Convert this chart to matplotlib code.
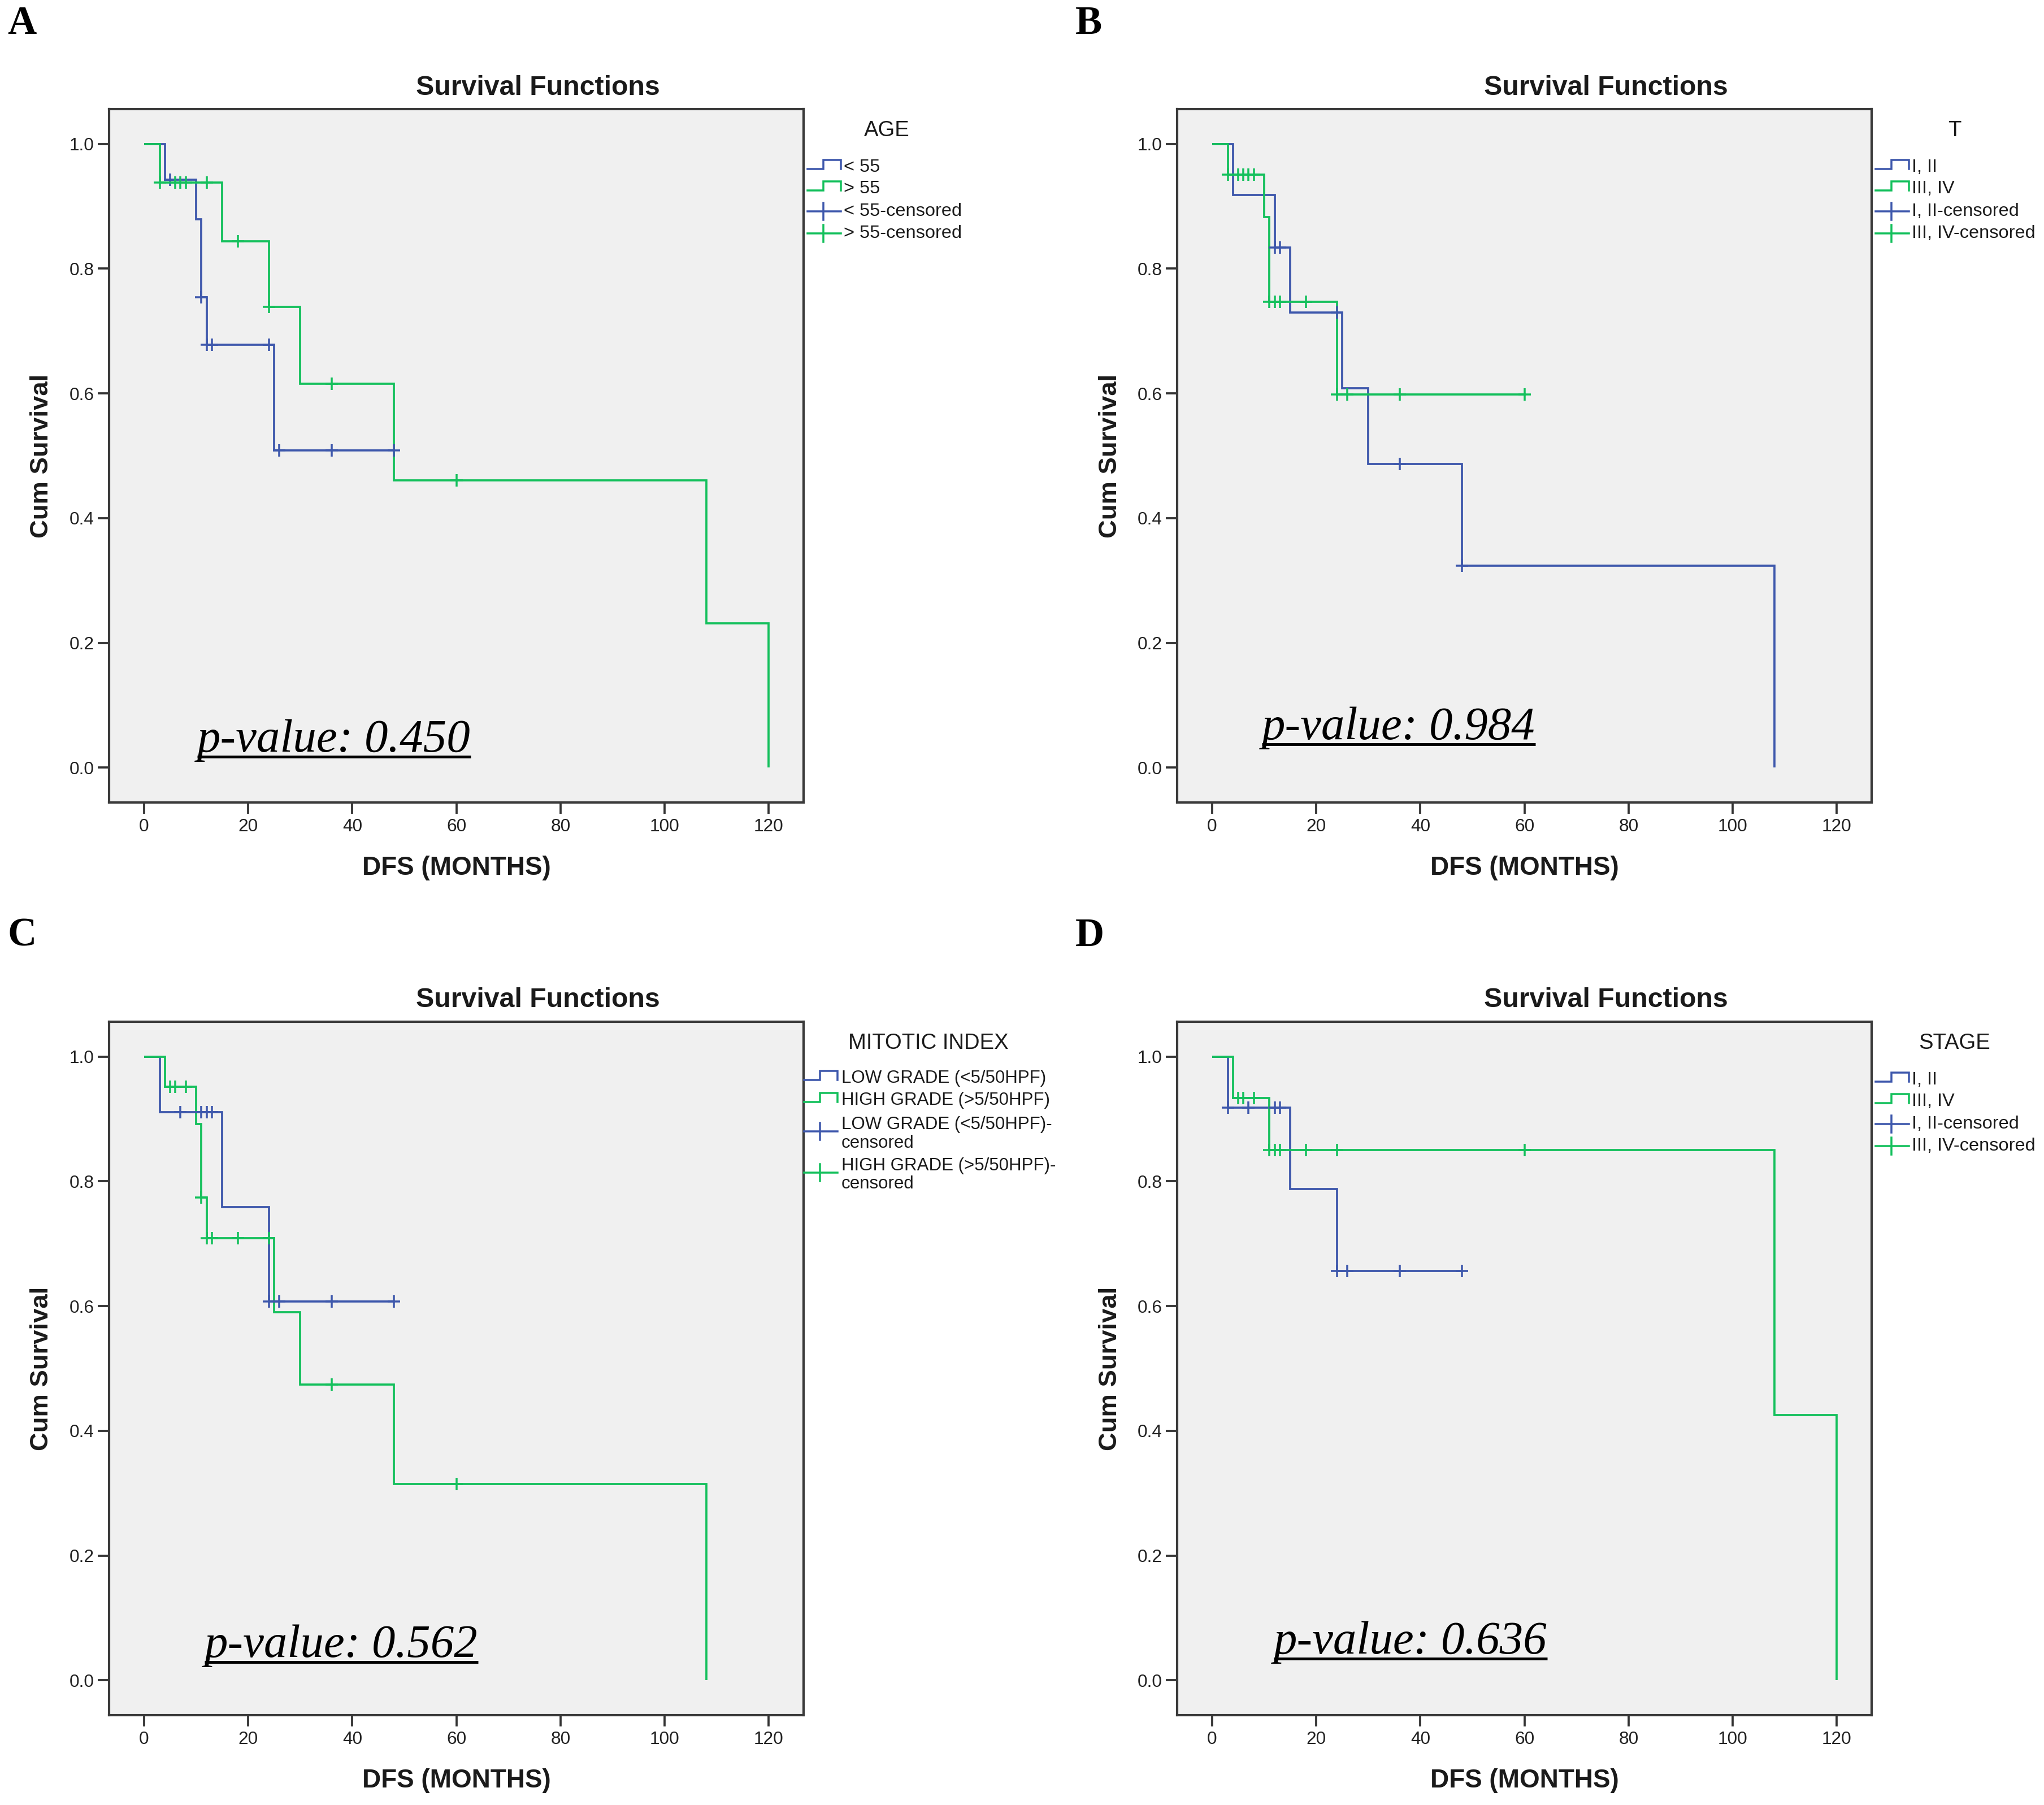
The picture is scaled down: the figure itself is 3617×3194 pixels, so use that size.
import matplotlib
matplotlib.use('Agg')
import matplotlib.pyplot as plt
import numpy as np
from matplotlib.lines import Line2D

# ---------------- data ----------------
panel_letters = ['A', 'B', 'C', 'D']
legend_titles = ['AGE', 'T', 'MITOTIC INDEX', 'STAGE']
group1_labels = ['< 55', 'I, II', 'LOW GRADE (<5/50HPF)', 'I, II']
group2_labels = ['> 55', 'III, IV', 'HIGH GRADE (>5/50HPF)', 'III, IV']
p_values = ['0.450', '0.984', '0.562', '0.636']
x_ticks = [0, 20, 40, 60, 80, 100, 120]
y_ticks = [0.0, 0.2, 0.4, 0.6, 0.8, 1.0]

# Panel A (AGE)
a_blue_event_t = [4, 10, 11, 12, 25]
a_blue_surv = [0.943, 0.879, 0.754, 0.678, 0.509]
a_blue_cens = [5, 11, 12, 13, 24, 26, 36, 48]
a_green_event_t = [3, 15, 24, 30, 48, 108, 120]
a_green_surv = [0.938, 0.844, 0.739, 0.616, 0.461, 0.231, 0.0]
a_green_cens = [3, 6, 7, 8, 12, 18, 24, 36, 60]

# Panel B (T)
b_blue_event_t = [4, 12, 15, 25, 30, 48, 108]
b_blue_surv = [0.918, 0.834, 0.730, 0.608, 0.487, 0.324, 0.0]
b_blue_cens = [12, 13, 24, 36, 48]
b_green_event_t = [3, 10, 11, 24]
b_green_surv = [0.951, 0.883, 0.747, 0.598]
b_green_cens = [3, 5, 6, 7, 8, 11, 12, 13, 18, 24, 26, 36, 60]

# Panel C (MITOTIC INDEX)
c_blue_event_t = [3, 15, 24]
c_blue_surv = [0.911, 0.759, 0.607]
c_blue_cens = [7, 11, 12, 13, 24, 26, 36, 48]
c_green_event_t = [4, 10, 11, 12, 25, 30, 48, 108]
c_green_surv = [0.952, 0.892, 0.774, 0.709, 0.590, 0.474, 0.315, 0.0]
c_green_cens = [5, 6, 8, 11, 12, 13, 18, 24, 36, 60]

# Panel D (STAGE)
d_blue_event_t = [3, 15, 24]
d_blue_surv = [0.918, 0.788, 0.656]
d_blue_cens = [3, 7, 12, 13, 24, 26, 36, 48]
d_green_event_t = [4, 11, 108, 120]
d_green_surv = [0.934, 0.850, 0.425, 0.0]
d_green_cens = [5, 6, 8, 11, 12, 13, 18, 24, 60]

panels = [
    (a_blue_event_t, a_blue_surv, a_blue_cens, a_green_event_t, a_green_surv, a_green_cens),
    (b_blue_event_t, b_blue_surv, b_blue_cens, b_green_event_t, b_green_surv, b_green_cens),
    (c_blue_event_t, c_blue_surv, c_blue_cens, c_green_event_t, c_green_surv, c_green_cens),
    (d_blue_event_t, d_blue_surv, d_blue_cens, d_green_event_t, d_green_surv, d_green_cens),
]

# ---------------- style ----------------
W, H = 3617, 3194
DPI = 300
BLUE = '#3E58AC'
GREEN = '#14C05C'
TXT = '#1a1a1a'
SANS = ['Liberation Sans', 'DejaVu Sans']
SERIF = ['Liberation Serif', 'DejaVu Serif']

plt.rcParams['font.family'] = SANS

fig = plt.figure(figsize=(W / DPI, H / DPI), dpi=DPI)
fig.patch.set_facecolor('white')

# axes rectangles in pixels (left, top, right, bottom)
rects = [(193, 193, 1422, 1420), (2083, 193, 3312, 1420),
         (193, 1808, 1422, 3035), (2083, 1808, 3312, 3035)]


def km_curve(ax, ev_t, surv, cens, color):
    t_end = max(list(ev_t) + list(cens))
    ts = [0] + list(ev_t)
    ss = [1.0] + list(surv)
    if t_end > ts[-1]:
        ts.append(t_end)
        ss.append(ss[-1])
    ax.step(ts, ss, where='post', color=color, lw=0.9, zorder=3,
            solid_joinstyle='miter', solid_capstyle='butt')
    ev = np.array(ev_t, dtype=float)
    sv = np.array(surv, dtype=float)
    idx = np.searchsorted(ev, np.array(cens, dtype=float), side='right') - 1
    lv = np.where(idx >= 0, sv[np.clip(idx, 0, None)], 1.0)
    ax.plot(cens, lv, ls='none', marker='+', ms=5.5, mew=0.85, color=color, zorder=4)


axes = []
for i, (l, t, r, b) in enumerate(rects):
    ax = fig.add_axes([l / W, 1 - b / H, (r - l) / W, (b - t) / H])
    ax.set_facecolor('#F0F0F0')
    ax.set_xlim(-6.73, 126.7)
    ax.set_ylim(-0.056, 1.056)
    ax.set_xticks(x_ticks)
    ax.set_yticks(y_ticks)
    ax.set_xticklabels([str(v) for v in x_ticks])
    ax.set_yticklabels(['%.1f' % v for v in y_ticks])
    ax.tick_params(direction='out', length=4.8, width=0.9, color='#333333',
                   labelsize=7.6, labelcolor='#222222')
    ax.tick_params(axis='x', pad=2.0)
    ax.tick_params(axis='y', pad=1.6)
    for sp in ax.spines.values():
        sp.set_color('#3a3a3a')
        sp.set_linewidth(1.0)
    be, bs, bc, ge, gs, gc = panels[i]
    km_curve(ax, be, bs, bc, BLUE)
    km_curve(ax, ge, gs, gc, GREEN)
    axes.append(ax)

# overlay in pixel coordinates
ov = fig.add_axes([0, 0, 1, 1])
ov.set_xlim(0, W)
ov.set_ylim(H, 0)
ov.axis('off')
ov.patch.set_alpha(0)

letter_pos = [(39, 42), (1927, 42), (39, 1656), (1928, 1656)]
for i, (l, t, r, b) in enumerate(rects):
    cx = (l + r) / 2
    cy = (t + b) / 2
    # panel letter
    ov.text(letter_pos[i][0], letter_pos[i][1], panel_letters[i], family=SERIF,
            fontweight='bold', fontsize=17, ha='center', va='center', color='black')
    # title
    ov.text(cx + 144, t - 38, 'Survival Functions', fontweight='bold', fontsize=11.6,
            ha='center', va='center', color=TXT)
    # axis labels
    ov.text(l - 119, cy, 'Cum Survival', fontweight='bold', fontsize=10.9,
            rotation=90, ha='center', va='center', color=TXT)
    ov.text(cx, b + 116, 'DFS (MONTHS)', fontweight='bold', fontsize=11.0,
            ha='center', va='center', color=TXT)

    # legend
    if i == 2:
        fs = 7.5
        sx0, sx1, tx = r + 1, r + 60, r + 67
        title_x = r + 221
        rows = [t + 100, t + 139]
        cens_rows = [t + 194, t + 267]
        cens_text = [[(t + 182, group1_labels[i] + '-'), (t + 215, 'censored')],
                     [(t + 255, group2_labels[i] + '-'), (t + 287, 'censored')]]
    else:
        fs = 7.8
        sx0, sx1, tx = r + 7, r + 66, r + 71
        title_x = r + 147
        rows = [t + 103, t + 141]
        cens_rows = [t + 181, t + 220]
        cens_text = [[(t + 181, group1_labels[i] + '-censored')],
                     [(t + 220, group2_labels[i] + '-censored')]]
    ov.text(title_x, t + 38, legend_titles[i], fontsize=9.2, ha='center',
            va='center', color=TXT)
    sxm = sx0 + 0.48 * (sx1 - sx0)
    for yc, col, lab in zip(rows, [BLUE, GREEN], [group1_labels[i], group2_labels[i]]):
        ov.add_line(Line2D([sx0, sxm, sxm, sx1, sx1],
                           [yc + 3, yc + 3, yc - 13, yc - 13, yc + 3],
                           color=col, lw=0.85, solid_joinstyle='miter'))
        ov.text(tx, yc, lab, fontsize=fs, ha='left', va='center', color=TXT)
    for yc, col, lines in zip(cens_rows, [BLUE, GREEN], cens_text):
        ov.add_line(Line2D([sx0, sx1], [yc, yc], color=col, lw=0.85))
        ov.add_line(Line2D([sxm, sxm], [yc - 15, yc + 15], color=col, lw=0.85))
        for ly, s in lines:
            ov.text(tx, ly, s, fontsize=fs, ha='left', va='center', color=TXT)

# p-value annotations (underlined)
p_pos = [(349, 1330), (2233, 1308), (362, 2932), (2254, 2926)]
p_texts = []
for i, (px, py) in enumerate(p_pos):
    tt = ov.text(px, py, 'p-value: ' + p_values[i], family=SERIF, style='italic',
                 fontsize=19.9, ha='left', va='baseline', color='black')
    p_texts.append(tt)

fig.canvas.draw()
renderer = fig.canvas.get_renderer()
for tt, (px, py) in zip(p_texts, p_pos):
    bb = tt.get_window_extent(renderer)
    ov.add_line(Line2D([bb.x0, bb.x1], [py + 9, py + 9], color='black', lw=1.2,
                       solid_capstyle='butt'))

fig.savefig('out.png', dpi=DPI, facecolor='white')
